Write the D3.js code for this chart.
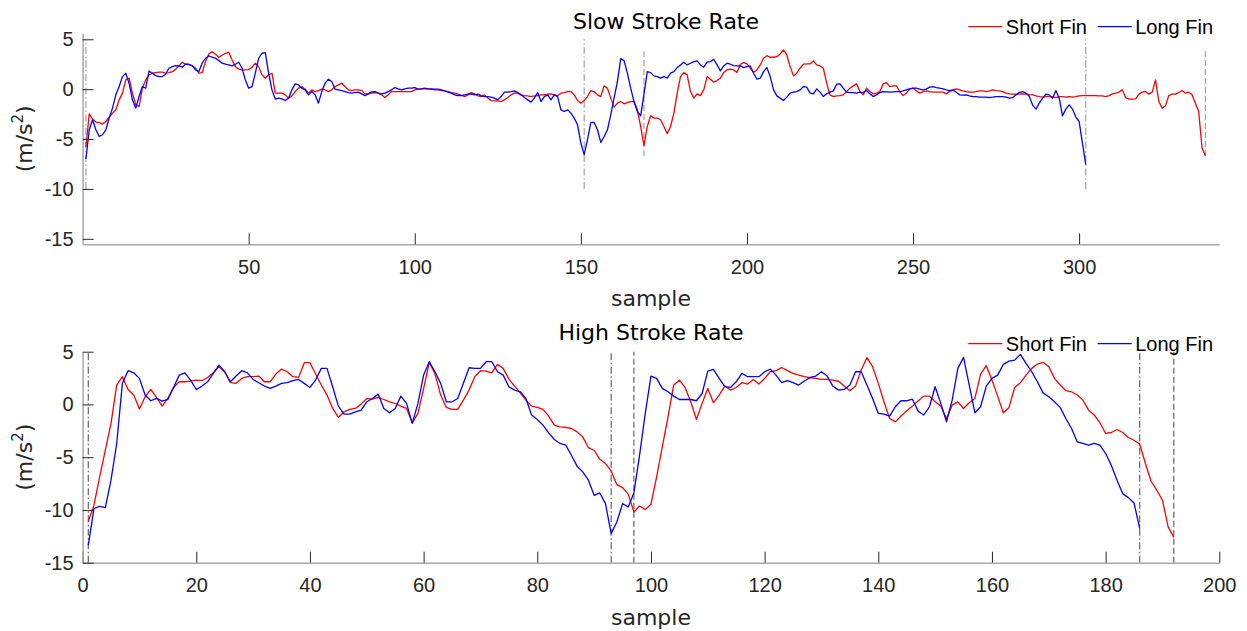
<!DOCTYPE html>
<html>
<head>
<meta charset="utf-8">
<script src="https://cdn.jsdelivr.net/npm/d3@7"></script>
<style>
  body { margin: 0; background: #fff; }
  svg { display: block; }
  .tick text { font-family: Arial, "Liberation Sans", sans-serif; font-size: 20px; fill: #262626; }
  .tick line { stroke: #262626; }
  .domain { stroke: #a8a8a8; stroke-width: 1.5; }
</style>
</head>
<body>
<div id="chart"></div>
<script>
// Slow stroke rate, one value per sample (starting at sample 1)
const shortSlow = [
  -5.8, -2.47, -3.0, -3.3, -3.34, -3.5, -3.24, -2.8, -2.4, -2.07,
  -1.07, -0.4, 0.93, 1.1, -0.4, -1.57, -1.74, 0.1, 0.93, 1.43,
  1.6, 1.66, 1.7, 1.7, 1.6, 1.66, 1.76, 2.0, 2.33, 2.7,
  2.5, 2.46, 2.36, 2.1, 1.6, 1.66, 2.76, 3.53, 3.76, 3.5,
  3.2, 3.4, 3.6, 3.7, 2.93, 2.26, 2.0, 1.93, 1.93, 1.96,
  2.2, 2.6, 2.26, 1.43, 1.1, 1.43, 1.6, -0.4, -0.4, -0.4,
  -0.57, -0.9, -0.67, -0.24, 0.1, 0.26, 0, -0.4, -0.07, -0.24,
  -0.14, 0, -0.07, -0.24, -0.07, 0.26, 0.43, 0.6, 0.26, -0.07,
  -0.14, -0.07, -0.07, -0.14, -0.47, -0.47, -0.4, -0.34, -0.4, -0.57,
  -0.84, -0.57, -0.24, -0.24, -0.24, -0.24, -0.24, -0.24, -0.24, -0.07,
  0, 0.03, 0.03, 0.03, 0.03, -0.07, -0.07, -0.14, -0.17, -0.24,
  -0.34, -0.4, -0.5, -0.6, -0.74, -0.57, -0.34, -0.47, -0.67, -0.74,
  -0.57, -0.9, -1.14, -1.17, -1.17, -1.24, -1.07, -0.84, -0.57, -0.4,
  -0.4, -0.57, -0.64, -0.67, -0.74, -0.67, -0.64, -0.57, -0.57, -0.5,
  -0.47, -0.57, -0.64, -0.4, -0.34, -0.24, -0.24, -0.57, -1.14, -1.4,
  -1.14, -0.74, -0.14, -0.24, -0.57, -0.74, 0.33, 0.1, -0.9, -1.8,
  -1.4, -1.24, -1.47, -1.34, -1.24, -1.24, -2.07, -3.74, -5.67, -3.74,
  -2.67, -2.9, -2.9, -3.07, -3.74, -4.47, -3.74, -2.4, -0.4, 1.26,
  1.66, 1.43, -0.24, -0.9, -0.47, -0.64, -0.07, 1.26, 1.0, 0.7,
  0.86, 1.1, 1.66, 1.93, 2.0, 1.93, 1.66, 2.5, 2.66, 2.53,
  2.1, 1.7, 1.93, 2.43, 3.1, 3.36, 3.2, 3.2, 3.26, 3.53,
  3.93, 3.43, 2.26, 1.33, 1.6, 2.1, 2.5, 2.53, 2.53, 2.83,
  2.43, 2.33, 2.1, 0.6, -0.57, -0.74, -0.67, -0.64, -0.57, -0.24,
  0.1, 0.33, 0.53, -0.24, -0.57, 0.1, -0.24, -0.47, -0.4, -0.24,
  0.53, 0.66, 0.26, 0.33, 0.33, -0.24, -0.64, -0.4, 0.03, 0.1,
  -0.17, -0.4, -0.24, -0.17, -0.24, -0.3, -0.3, -0.3, -0.3, -0.47,
  -0.24, -0.07, 0.03, -0.07, -0.17, -0.24, -0.3, -0.3, -0.24, -0.17,
  -0.17, -0.24, -0.17, -0.07, -0.14, -0.17, -0.24, -0.4, -0.47, -0.5,
  -0.5, -0.5, -0.47, -0.5, -0.54, -0.57, -0.67, -0.74, -0.8, -0.74,
  -0.74, -0.74, -0.84, -0.74, -0.74, -0.8, -0.74, -0.8, -0.74, -0.67,
  -0.64, -0.64, -0.64, -0.64, -0.64, -0.67, -0.67, -0.74, -0.64, -0.47,
  -0.4, -0.3, -0.07, -0.84, -1.0, -1.0, -0.97, -0.5, -0.3, -0.24,
  -0.5, -0.3, 0.93, -1.24, -1.9, -1.67, -0.64, -0.5, -0.5, -0.34,
  -0.14, -0.4, -0.3, -0.57, -1.4, -2.24, -5.9, -6.67
];
const longSlow = [
  -7.0, -4.07, -3.07, -4.07, -4.74, -4.57, -4.07, -2.9, -1.9, -0.57,
  0.26, 1.26, 1.6, 0.6, -1.07, -1.9, -0.74, 0.26, 0.1, 1.83,
  1.6, 1.36, 1.26, 1.26, 1.5, 2.1, 2.26, 2.36, 2.33, 2.2,
  2.5, 2.5, 2.33, 1.93, 1.76, 2.6, 3.1, 3.33, 3.2, 3.1,
  2.86, 2.6, 2.5, 2.43, 2.33, 2.5, 2.7, 2.1, 0.93, 0.1,
  0.26, 1.6, 3.1, 3.6, 3.66, 1.6, -0.07, -1.0, -0.9, -0.97,
  -1.14, -0.9, -0.07, 0.53, 0.43, 0.1, -0.07, -0.57, -0.24, -0.57,
  -1.4, -0.24, 0.6, 1.0, 0.76, 0, -0.07, -0.14, -0.24, -0.34,
  -0.4, -0.34, -0.3, -0.47, -0.64, -0.47, -0.27, -0.24, -0.4, -0.47,
  -0.4, -0.24, -0.07, 0.16, 0.03, -0.07, 0.03, 0.1, 0.1, 0.16,
  0, 0.03, 0.1, 0.03, 0, 0, 0, -0.07, -0.17, -0.3,
  -0.4, -0.57, -0.64, -0.64, -0.57, -0.5, -0.47, -0.57, -0.5, -0.67,
  -0.74, -0.74, -0.8, -0.9, -1.07, -0.74, -0.3, -0.3, -0.24, -0.17,
  -0.34, -0.57, -0.84, -1.07, -1.3, -0.9, -0.34, -1.24, -0.74, -0.57,
  -1.07, -0.57, -0.74, -2.07, -2.24, -2.07, -2.4, -2.9, -3.57, -5.4,
  -6.57, -5.07, -3.34, -3.34, -4.07, -5.34, -4.74, -4.07, -2.57, -0.9,
  0.76, 3.06, 2.86, 1.6, 0.1, -1.24, -2.24, -2.67, -0.5, 1.76,
  1.66, 1.33, 1.26, 1.1, 1.26, 1.1, 1.6, 1.76, 2.16, 2.43,
  2.7, 2.43, 2.6, 2.76, 2.83, 2.43, 2.2, 2.7, 2.76, 3.0,
  2.43, 1.83, 2.33, 2.6, 2.5, 2.36, 2.33, 2.33, 2.16, 2.26,
  2.33, 1.6, 1.0, 1.1, 1.76, 2.16, 1.26, -0.07, -0.67, -0.9,
  -1.14, -0.8, -0.4, -0.3, -0.24, -0.07, 0.26, 0.2, -0.4, -0.47,
  0.03, -0.3, -0.74, -0.47, -0.3, -0.17, 0.5, 0.53, 0.1, -0.3,
  -0.34, -0.34, -0.4, -0.3, -0.34, -0.14, -0.47, -0.74, -0.57, -0.34,
  -0.24, -0.27, -0.3, -0.27, -0.24, -0.24, -0.17, -0.07, 0.03, 0.1,
  0.1, 0, -0.07, 0, 0.2, 0.26, 0.16, 0.1, 0.03, -0.07,
  -0.14, -0.07, -0.3, -0.57, -0.6, -0.57, -0.67, -0.74, -0.74, -0.8,
  -0.8, -0.8, -0.84, -0.8, -0.74, -0.74, -0.74, -0.8, -0.9, -0.84,
  -0.57, -0.34, -0.24, -0.4, -0.7, -1.6, -2.0, -1.4, -0.9, -0.5,
  -0.57, -0.9, -0.14, -0.9, -2.67, -2.0, -1.57, -2.0, -2.8, -3.24,
  -5.4, -7.57
];

// High stroke rate
const shortHigh = [
  -11.1, -9.55, -6.87, -4.34, -1.8, 1.84, 2.63, 1.42, 0.89, -0.44,
  0.73, 1.42, 0.66, -0.16, 0.57, 1.61, 2.15, 2.15, 2.22, 2.31,
  2.25, 2.56, 3.0, 3.58, 3.1, 2.06, 2.0, 2.47, 2.63, 2.63,
  2.69, 2.15, 2.15, 2.88, 3.35, 3.1, 2.63, 2.56, 3.96, 3.96,
  2.88, 1.84, 0.89, -0.38, -1.23, -0.7, -0.47, -0.38, 0.03, 0.57,
  0.5, 0.66, 0.47, 0.25, 0.09, -0.16, -0.38, -1.74, -0.85, 1.5,
  4.0, 2.9, 0.89, -0.28, -0.47, -0.47, 0.41, 1.36, 2.63, 3.2,
  3.16, 3.0, 3.8, 3.42, 2.4, 1.74, 1.1, 0.41, -0.16, -0.28,
  -0.47, -1.1, -1.96, -2.12, -2.18, -2.28, -2.6, -3.07, -4.1, -4.34,
  -5.2, -5.6, -6.3, -7.6, -7.88, -8.5, -10.2, -9.62, -9.97, -9.46,
  -6.87, -4.0, -1.17, 1.84, 2.3, 1.61, 0.25, -1.42, 0.1, 1.52,
  0.16, 0.89, 1.74, 1.36, 1.61, 2.06, 1.93, 2.37, 1.93, 2.47,
  3.1, 3.2, 3.5, 3.2, 2.94, 2.78, 2.63, 2.53, 2.47, 2.37,
  2.37, 2.3, 2.2, 1.74, 1.3, 1.74, 3.26, 4.43, 3.58, 2.0,
  0.25, -1.33, -1.65, -1.1, -0.6, -0.16, 0.32, 0.79, 0.79, 0.25,
  -0.16, -1.33, -0.06, 0.25, -0.38, 0.16, 0.57, 2.88, 3.67, 2.31,
  0.79, -0.79, -0.28, 1.61, 2.06, 2.78, 3.42, 3.83, 3.99, 3.58,
  2.47, 1.84, 1.3, 1.2, 0.89, 0.41, -0.54, -1.0, -1.74, -2.75,
  -2.66, -2.37, -2.66, -3.13, -3.39, -3.77, -5.6, -7.28, -8.13, -9.08,
  -11.6, -12.6
];
const longHigh = [
  -13.35, -9.87, -9.65, -9.78, -7.18, -3.7, 2.0, 3.2, 3.0, 2.47,
  0.89, 0.35, 0.57, 0.32, 0.47, 1.61, 2.78, 3.0, 2.31, 1.42,
  1.74, 2.15, 2.94, 3.73, 3.1, 2.15, 2.69, 3.2, 3.0, 2.37,
  2.06, 1.74, 1.52, 1.74, 2.0, 2.06, 2.25, 2.37, 2.0, 1.61,
  2.31, 3.42, 3.42, 1.68, -0.16, -0.92, -0.92, -0.7, -0.54, 0.25,
  0.57, 0.98, -0.38, -0.79, -0.38, 0.79, 0.1, -1.8, 0.1, 2.78,
  4.05, 3.1, 2.0, 0.25, 0.25, 0.57, 2.0, 3.48, 3.42, 3.42,
  4.05, 4.05, 3.1, 2.78, 1.68, 1.36, 1.2, 0.57, -1.01, -1.42,
  -1.96, -2.69, -3.32, -3.7, -3.86, -4.81, -5.85, -6.39, -7.18, -8.61,
  -8.39, -9.4, -12.24, -11.14, -9.4, -9.72, -8.39, -4.81, -0.85, 2.69,
  2.47, 1.52, 1.2, 0.79, 0.47, 0.47, 0.47, 0.35, 1.04, 3.16,
  3.32, 2.47, 1.68, 1.61, 2.15, 2.94, 2.63, 2.63, 2.63, 3.1,
  3.35, 2.78, 2.06, 2.25, 2.06, 1.84, 2.22, 2.56, 2.69, 3.1,
  2.69, 1.74, 1.36, 1.42, 1.84, 3.1, 3.1, 1.84, 0.57, -0.85,
  -0.92, -1.1, -0.22, 0.35, 0.35, 0.5, -0.63, -1.0, -0.22, 1.68,
  0.1, -1.65, 0.41, 3.42, 4.46, 1.84, -0.79, -0.22, 1.74, 2.47,
  2.78, 3.8, 4.11, 4.2, 4.75, 3.89, 3.1, 2.15, 1.1, 0.73,
  0.25, -0.28, -1.33, -2.28, -3.54, -3.7, -3.86, -3.7, -3.86, -4.65,
  -5.76, -7.18, -8.45, -8.83, -9.34, -11.77
];

// stroke boundaries (sample numbers)
const longMarksSlow = [1, 151, 302];
const shortMarksSlow = [169, 338];
const longMarksHigh = [1, 93, 186];
const shortMarksHigh = [97, 192];

const yTicks = [-15, -10, -5, 0, 5];
const slowXTicks = [50, 100, 150, 200, 250, 300];
const highXTicks = [0, 20, 40, 60, 80, 100, 120, 140, 160, 180, 200];
const seriesNames = ["Short Fin", "Long Fin"];
const seriesColors = ["#ff0000", "#0000ff"];

const width = 1247;
const height = 631;
const left = 82.6;
const right = 1219.3;

const svg = d3.select("#chart")
  .append("svg")
  .attr("width", width)
  .attr("height", height);

function drawPanel(p) {
  const x = d3.scaleLinear().domain(p.xDomain).range([left, right]);
  const y = d3.scaleLinear().domain(p.yDomain).range([p.bottom, p.top]);
  const g = svg.append("g");

  // boundary markers, drawn under the data
  const marks = [
    ...p.longMarks.map(m => ({ m, span: p.longSpan, dash: "7,2.5,1.5,2.5" })),
    ...p.shortMarks.map(m => ({ m, span: p.shortSpan, dash: "6,3" }))
  ];
  g.selectAll("line.mark")
    .data(marks)
    .join("line")
      .attr("class", "mark")
      .attr("x1", d => x(d.m))
      .attr("x2", d => x(d.m))
      .attr("y1", d => y(d.span[0]))
      .attr("y2", d => y(d.span[1]))
      .attr("stroke", p.markColor)
      .attr("stroke-width", 1.1)
      .attr("stroke-dasharray", d => d.dash);

  const line = d3.line()
    .x((d, i) => x(i + 1))
    .y(d => y(d));

  g.selectAll("path.series")
    .data(p.series)
    .join("path")
      .attr("class", "series")
      .attr("fill", "none")
      .attr("stroke", (d, i) => seriesColors[i])
      .attr("stroke-width", 1.3)
      .attr("stroke-linejoin", "round")
      .attr("d", line);

  // plain hyphen minus, like the original figure
  const fmt = d => String(d);

  g.append("g")
    .attr("transform", `translate(0,${p.bottom})`)
    .call(d3.axisBottom(x)
      .tickValues(p.xTicks)
      .tickFormat(fmt)
      .tickSizeInner(-11)
      .tickSizeOuter(0)
      .tickPadding(15.5));

  g.append("g")
    .attr("transform", `translate(${left},0)`)
    .call(d3.axisLeft(y)
      .tickValues(yTicks)
      .tickFormat(fmt)
      .tickSizeInner(-11)
      .tickSizeOuter(0)
      .tickPadding(9));

  g.append("text")
    .attr("x", p.titleX)
    .attr("y", p.titleY)
    .attr("text-anchor", "middle")
    .style("font-family", "'DejaVu Sans', sans-serif")
    .style("font-size", "22px")
    .attr("fill", "#000")
    .text(p.title);

  g.append("text")
    .attr("x", (left + right) / 2)
    .attr("y", p.bottom + 62)
    .attr("text-anchor", "middle")
    .style("font-family", "'DejaVu Sans', sans-serif")
    .style("font-size", "22px")
    .attr("fill", "#262626")
    .text("sample");

  const yl = g.append("text")
    .attr("transform", `translate(32,${(p.top + p.bottom) / 2}) rotate(-90)`)
    .attr("text-anchor", "middle")
    .style("font-family", "'DejaVu Sans', sans-serif")
    .style("font-size", "22px")
    .attr("fill", "#262626");
  yl.append("tspan").text("(m/s");
  yl.append("tspan").attr("dy", -9).style("font-size", "15px").text("2");
  yl.append("tspan").attr("dy", 9).text(")");

  // legend
  const legendX = [968.3, 1097.7];
  const leg = g.selectAll("g.leg")
    .data(seriesNames)
    .join("g")
      .attr("class", "leg")
      .attr("transform", (d, i) => `translate(${legendX[i]},${p.legendY})`);
  leg.append("line")
    .attr("x1", 0).attr("x2", 34)
    .attr("stroke", (d, i) => seriesColors[i])
    .attr("stroke-width", 1.3);
  leg.append("text")
    .attr("x", 37.5)
    .attr("y", 7)
    .style("font-family", "Arial, 'Liberation Sans', sans-serif")
    .style("font-size", "20px")
    .attr("fill", "#000")
    .text(d => d);
}

drawPanel({
  title: "Slow Stroke Rate",
  titleX: 666, titleY: 29.3,
  top: 33.3, bottom: 244.3,
  xDomain: [0, 342.2], yDomain: [-15.55, 5.6],
  xTicks: slowXTicks,
  series: [shortSlow, longSlow],
  longMarks: longMarksSlow, shortMarks: shortMarksSlow,
  longSpan: [-10, 5], shortSpan: [-6.7, 3.8],
  markColor: "#9a9a9a",
  legendY: 26.7
});

drawPanel({
  title: "High Stroke Rate",
  titleX: 651, titleY: 340,
  top: 351.7, bottom: 562.7,
  xDomain: [0, 200], yDomain: [-15, 5],
  xTicks: highXTicks,
  series: [shortHigh, longHigh],
  longMarks: longMarksHigh, shortMarks: shortMarksHigh,
  longSpan: [-15, 5], shortSpan: [-15, 5],
  markColor: "#555555",
  legendY: 343.6
});
</script>
</body>
</html>
